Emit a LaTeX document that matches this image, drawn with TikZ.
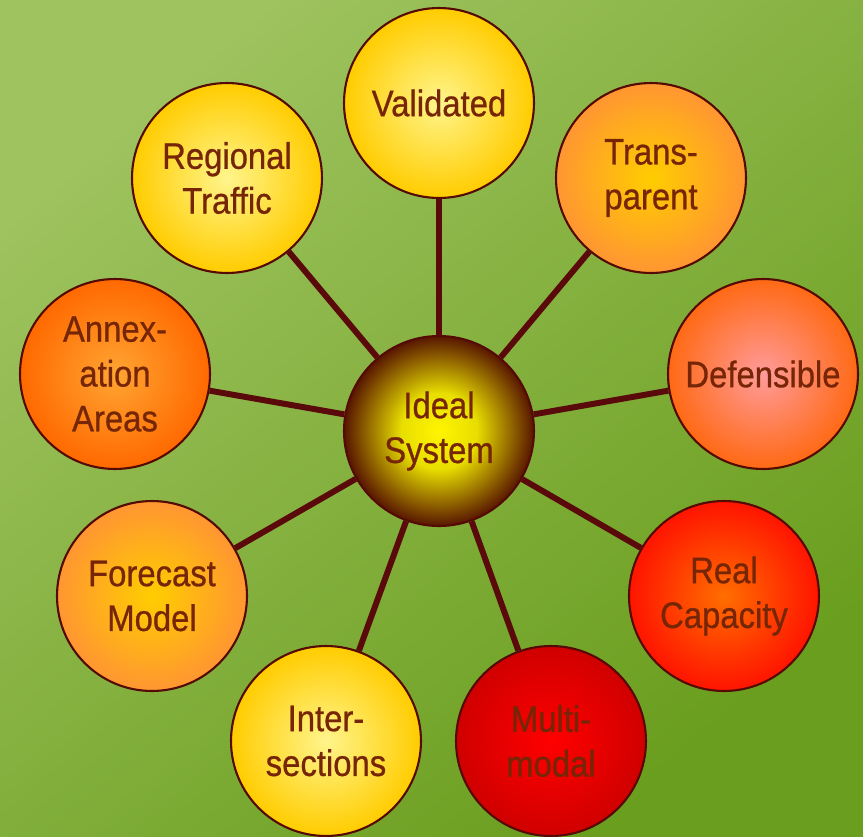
\documentclass[tikz,border=0pt]{standalone}
\usepackage{fontspec}
\setmainfont{Liberation Sans}[FakeStretch=0.89,FakeBold=0.7]

\definecolor{ink}{RGB}{118,38,6}
\definecolor{rim}{RGB}{85,10,5}
\definecolor{spoke}{RGB}{90,10,10}
\definecolor{meadowlight}{RGB}{158,195,95}
\definecolor{meadowdark}{RGB}{106,158,30}
\definecolor{hubcore}{RGB}{255,245,0}
\definecolor{hubmid}{RGB}{232,222,0}
\definecolor{hubedge}{RGB}{88,22,0}

\pgfdeclareradialshading{hubglow}{\pgfpoint{0bp}{0bp}}{color(0bp)=(hubcore); color(10bp)=(hubmid); color(25bp)=(hubedge); color(50bp)=(hubedge)}

\begin{document}
\begin{tikzpicture}[x=0.02cm,y=-0.02cm,
    main node/.style={circle,draw=rim,line width=1.2pt,minimum size=3.8cm,inner sep=0pt,align=center,text=ink,font=\fontsize{21}{25.5}\selectfont},
    pale/.style={main node,inner color={rgb,255:red,255;green,245;blue,140},outer color={rgb,255:red,255;green,204;blue,0}},
    amber/.style={main node,inner color={rgb,255:red,255;green,205;blue,0},outer color={rgb,255:red,255;green,150;blue,50}},
    tangerine/.style={main node,inner color={rgb,255:red,255;green,165;blue,50},outer color={rgb,255:red,255;green,105;blue,0}},
    blush/.style={main node,inner color={rgb,255:red,255;green,155;blue,155},outer color={rgb,255:red,255;green,105;blue,20}},
    scarlet/.style={main node,inner color={rgb,255:red,255;green,110;blue,0},outer color={rgb,255:red,255;green,20;blue,0}},
    crimson/.style={main node,inner color={rgb,255:red,255;green,0;blue,0},outer color={rgb,255:red,208;green,0;blue,0}}]
    \useasboundingbox (0,0) rectangle (863,836);
    \fill[top color=meadowlight,bottom color=meadowdark,shading angle=40] (0,0) rectangle (863,836);

    \node[main node,shading=hubglow] (ideal) at (439,431) {Ideal\\System};
    \node[pale] (valid) at (439,103) {Validated};
    \node[amber] (transp) at (651,178) {Trans-\\parent};
    \node[blush] (defens) at (763,374) {Defensible};
    \node[scarlet] (realcap) at (724,596) {Real\\Capacity};
    \node[crimson] (multi) at (551,741) {Multi-\\modal};
    \node[pale] (inter) at (326,741) {Inter-\\sections};
    \node[amber] (forecast) at (152,596) {Forecast\\Model};
    \node[tangerine] (annex) at (115,374) {Annex-\\ation\\Areas};
    \node[pale] (region) at (227,178) {Regional\\Traffic};

    \path[draw=spoke,line width=3.4pt]
        (ideal) edge (valid)
        (ideal) edge (transp)
        (ideal) edge (defens)
        (ideal) edge (realcap)
        (ideal) edge (multi)
        (ideal) edge (inter)
        (ideal) edge (forecast)
        (ideal) edge (annex)
        (ideal) edge (region)
        ;
\end{tikzpicture}
\end{document}
